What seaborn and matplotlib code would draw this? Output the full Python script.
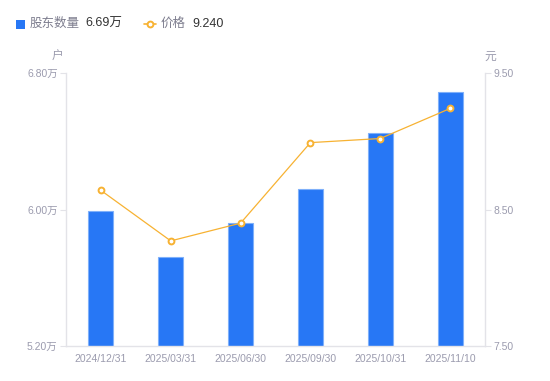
import matplotlib
matplotlib.use("Agg")
import matplotlib.pyplot as plt
import seaborn as sns
import pandas as pd
from matplotlib.lines import Line2D
from matplotlib.patches import Rectangle

dates = ["2024/12/31", "2025/03/31", "2025/06/30", "2025/09/30", "2025/10/31", "2025/11/10"]
holders = [5.99, 5.72, 5.92, 6.12, 6.45, 6.69]   # 万户
price = [8.64, 8.27, 8.40, 8.99, 9.02, 9.24]
left_ticks = [5.20, 6.00, 6.80]
right_ticks = [7.50, 8.50, 9.50]

sns.set_theme(style="white")
plt.rcParams['font.family'] = ['Liberation Sans', 'Noto Sans CJK SC', 'DejaVu Sans']

BLUE = "#2777F5"
ORANGE = "#F7B232"
GRAY = "#9B9BAE"
AXC = "#E3E3E8"

df = pd.DataFrame({"date": dates, "holders": holders, "price": price, "idx": range(len(dates))})

fig = plt.figure(figsize=(5.5, 3.81), dpi=100)
ax = fig.add_axes([66/550, 35/381, 419/550, 273/381])
sns.barplot(data=df, x="date", y="holders", color=BLUE, width=0.36, ax=ax,
            edgecolor="#7FB0FA", linewidth=0.8, saturation=1)
ax.set_ylim(5.20, 6.80)
ax.set_xlim(-0.5, 5.5)
ax.set_yticks(left_ticks)
ax.set_yticklabels([f"{v:.2f}万" for v in left_ticks])
ax.set_xlabel("")
ax.set_ylabel("")

ax2 = ax.twinx()
sns.lineplot(data=df, x="idx", y="price", color=ORANGE, linewidth=0.9, ax=ax2,
             marker="o", markersize=4.2, markerfacecolor="white",
             markeredgecolor=ORANGE, markeredgewidth=1.4)
ax2.set_ylim(7.50, 9.50)
ax2.set_yticks(right_ticks)
ax2.set_yticklabels([f"{v:.2f}" for v in right_ticks])
ax2.set_xlim(-0.5, 5.5)
ax2.set_ylabel("")
ax2.set_xlabel("")

for a in (ax, ax2):
    for s in a.spines.values():
        s.set_visible(False)
ax.spines["left"].set_visible(True)
ax.spines["bottom"].set_visible(True)
ax2.spines["right"].set_visible(True)
for s in (ax.spines["left"], ax.spines["bottom"], ax2.spines["right"]):
    s.set_color(AXC)
    s.set_linewidth(1)

ax.tick_params(axis="y", colors=AXC, labelcolor=GRAY, labelsize=7.5, length=4, width=0.8, pad=2, left=True)
ax.tick_params(axis="x", labelcolor=GRAY, labelsize=7.5, length=0, pad=6)
ax2.tick_params(axis="y", colors=AXC, labelcolor=GRAY, labelsize=7.5, length=4, width=0.8, pad=2, right=True)
ax.grid(False)
ax2.grid(False)

fig.text(58/550, 1 - 57/381, "户", color=GRAY, fontsize=8.5, ha="center", va="center")
fig.text(490/550, 1 - 57/381, "元", color=GRAY, fontsize=8.5, ha="center", va="center")

# legend
fig.patches.append(Rectangle((16/550, 1 - 29/381), 9/550, 9/381, transform=fig.transFigure,
                             facecolor=BLUE, edgecolor="none", figure=fig))
fig.text(30/550, 1 - 24/381, "股东数量", color="#7D7D8E", fontsize=9, va="center")
fig.text(85/550, 1 - 24/381, "6.69万", color="#333333", fontsize=9, va="center")
fig.add_artist(Line2D([144/550, 156/550], [1 - 24/381, 1 - 24/381], transform=fig.transFigure,
                      color=ORANGE, linewidth=1.2))
fig.add_artist(Line2D([150/550], [1 - 24/381], transform=fig.transFigure, color=ORANGE,
                      marker="o", markersize=4.2, markerfacecolor="white", markeredgewidth=1.4))
fig.text(161/550, 1 - 24/381, "价格", color="#7D7D8E", fontsize=9, va="center")
fig.text(192/550, 1 - 24/381, "9.240", color="#333333", fontsize=9, va="center")

fig.savefig("out.png", dpi=100)
